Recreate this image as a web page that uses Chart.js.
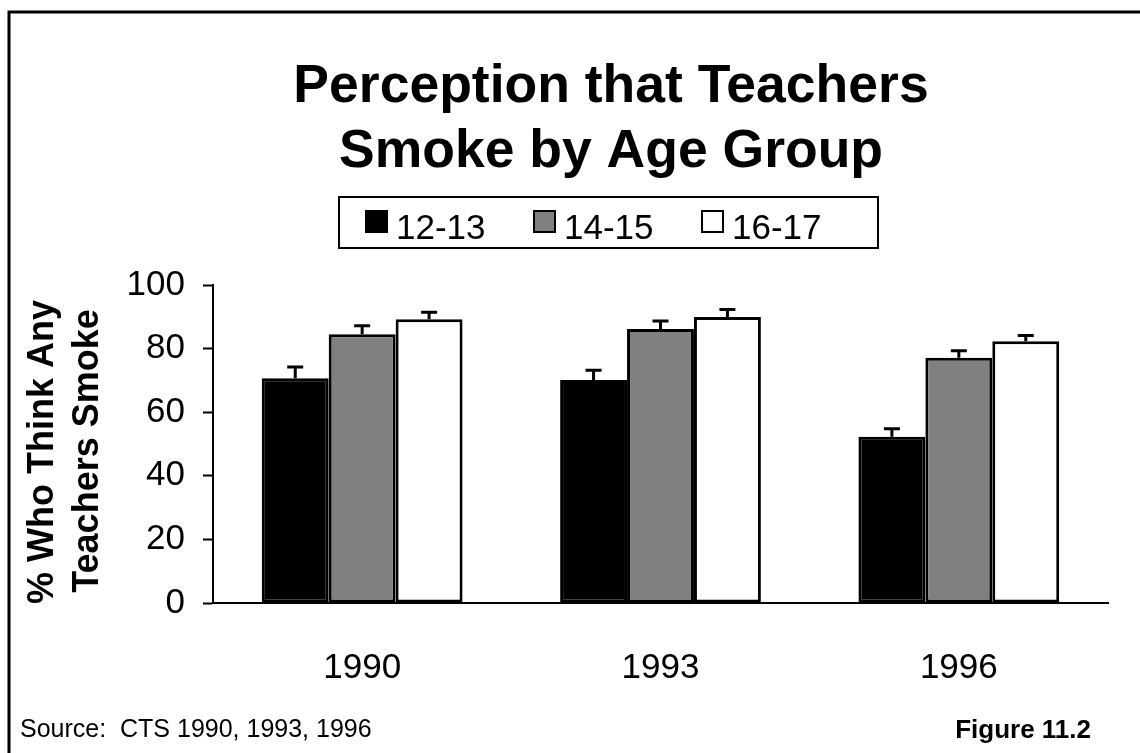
<!DOCTYPE html>
<html>
<head>
<meta charset="utf-8">
<script src="https://cdn.jsdelivr.net/npm/chart.js@4.4.0/dist/chart.umd.min.js"></script>
<style>
  html, body { margin: 0; padding: 0; background: #fff; }
  #wrap { width: 1140px; height: 753px; }
</style>
</head>
<body>
<div id="wrap"><canvas id="chart" width="1140" height="753"></canvas></div>
<script>
const years = ['1990', '1993', '1996']
const groups = ['12-13', '14-15', '16-17']
const colors = ['#000000', '#808080', '#ffffff']

// percent who think any teachers smoke, one array per age group
const age1213 = [70.7, 70.1, 52.3]
const age1415 = [84.5, 86.2, 77.1]
const age1617 = [89.2, 89.9, 82.3]

// upper error bar length for each bar
const err1213 = [3.5, 3.1, 2.5]
const err1415 = [2.7, 2.5, 2.2]
const err1617 = [2.2, 2.4, 1.8]

const yTicks = [0, 20, 40, 60, 80, 100]

const FONT = '"Liberation Sans", Arial, sans-serif'

const errorBars = {
  id: 'errorBars',
  afterDatasetsDraw (chart) {
    const ctx = chart.ctx
    const yScale = chart.scales.y
    ctx.save()
    ctx.strokeStyle = '#000'
    ctx.lineWidth = 3
    chart.data.datasets.forEach((ds, di) => {
      const meta = chart.getDatasetMeta(di)
      meta.data.forEach((bar, i) => {
        const top = yScale.getPixelForValue(ds.data[i] + ds.errors[i])
        const base = yScale.getPixelForValue(ds.data[i])
        ctx.beginPath()
        ctx.moveTo(bar.x, base)
        ctx.lineTo(bar.x, top)
        ctx.moveTo(bar.x - 8, top)
        ctx.lineTo(bar.x + 8, top)
        ctx.stroke()
      })
    })
    ctx.restore()
  }
}

const decorations = {
  id: 'decorations',
  afterDraw (chart) {
    const ctx = chart.ctx
    ctx.save()
    ctx.fillStyle = '#000'
    ctx.strokeStyle = '#000'

    // frame along the top and left
    ctx.lineWidth = 3
    ctx.beginPath()
    ctx.moveTo(9, 753)
    ctx.lineTo(9, 12)
    ctx.lineTo(1140, 12)
    ctx.stroke()

    // title
    ctx.textAlign = 'center'
    ctx.textBaseline = 'alphabetic'
    ctx.font = 'bold 53.5px ' + FONT
    ctx.fillText('Perception that Teachers', 611, 102)
    ctx.fillText('Smoke by Age Group', 611, 167)

    // legend box
    ctx.lineWidth = 2
    ctx.strokeRect(339, 197, 539, 51)
    ctx.font = '35px ' + FONT
    ctx.textAlign = 'left'
    const legendX = [366, 534, 702]
    groups.forEach((g, i) => {
      ctx.fillStyle = colors[i]
      ctx.fillRect(legendX[i], 211, 21, 21)
      ctx.strokeRect(legendX[i], 211, 21, 21)
      ctx.fillStyle = '#000'
      ctx.fillText(g, legendX[i] + 30, 239)
    })

    // y axis title, two rotated lines
    ctx.font = 'bold 36px ' + FONT
    ctx.textAlign = 'center'
    ctx.save()
    ctx.translate(53, 452)
    ctx.rotate(-Math.PI / 2)
    ctx.fillText('% Who Think Any', 0, 0)
    ctx.restore()
    ctx.save()
    ctx.translate(98, 451)
    ctx.rotate(-Math.PI / 2)
    ctx.fillText('Teachers Smoke', 0, 0)
    ctx.restore()

    // footer
    ctx.font = '25px ' + FONT
    ctx.textAlign = 'left'
    ctx.fillText('Source:  CTS 1990, 1993, 1996', 20, 737)
    ctx.font = 'bold 26px ' + FONT
    ctx.textAlign = 'right'
    ctx.fillText('Figure 11.2', 1091, 738)
    ctx.restore()
  }
}

const ctx = document.getElementById('chart').getContext('2d')
new Chart(ctx, {
  type: 'bar',
  data: {
    labels: years,
    datasets: [
      { label: groups[0], data: age1213, errors: err1213, backgroundColor: colors[0] },
      { label: groups[1], data: age1415, errors: err1415, backgroundColor: colors[1] },
      { label: groups[2], data: age1617, errors: err1617, backgroundColor: colors[2] }
    ].map(ds => Object.assign(ds, {
      borderColor: '#000',
      borderWidth: 3,
      borderSkipped: false,
      categoryPercentage: 0.673,
      barPercentage: 1.0
    }))
  },
  options: {
    responsive: false,
    animation: false,
    layout: { padding: { left: 0, right: 32, top: 285, bottom: 0 } },
    plugins: {
      legend: { display: false },
      title: { display: false },
      tooltip: { enabled: false }
    },
    scales: {
      x: {
        afterFit (scale) { scale.height = 150 },
        grid: { display: false, drawTicks: false },
        border: { display: true, color: '#000', width: 2 },
        ticks: { color: '#000', font: { family: FONT, size: 35 }, padding: 44 }
      },
      y: {
        min: 0,
        max: 100,
        afterFit (scale) { scale.width = 213 },
        afterBuildTicks (scale) { scale.ticks = yTicks.map(v => ({ value: v })) },
        grid: { drawOnChartArea: false, color: '#000', tickLength: 10, tickWidth: 2 },
        border: { display: true, color: '#000', width: 2 },
        ticks: { color: '#000', font: { family: FONT, size: 35 }, padding: 18 }
      }
    }
  },
  plugins: [errorBars, decorations]
})
</script>
</body>
</html>
